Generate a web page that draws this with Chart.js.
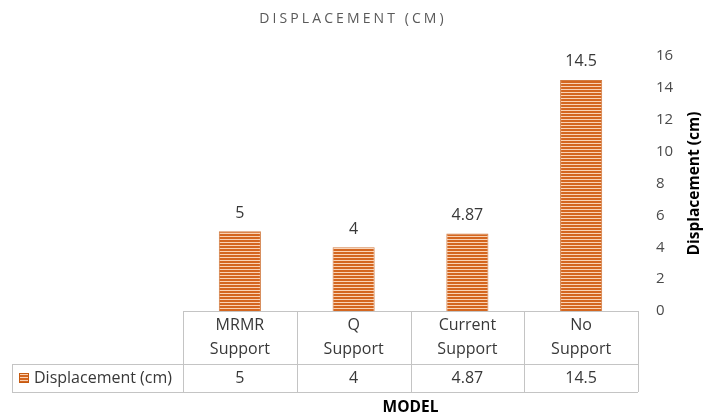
<!DOCTYPE html>
<html>
<head>
<meta charset="utf-8">
<script src="https://cdn.jsdelivr.net/npm/chart.js@4.4.1/dist/chart.umd.min.js"></script>
<style>
  html, body { margin: 0; padding: 0; background: #ffffff; }
  #wrap { width: 703px; height: 419px; }
</style>
</head>
<body>
<div id="wrap"><canvas id="c" width="703" height="419"></canvas></div>
<script>
// Data
const categories = [["MRMR", "Support"], ["Q", "Support"], ["Current", "Support"], ["No", "Support"]];
const displacement = [5, 4, 4.87, 14.5];
const valueLabels = ["5", "4", "4.87", "14.5"];
const seriesName = "Displacement (cm)";
const chartTitle = "DISPLACEMENT (CM)";
const yTitle = "Displacement (cm)";
const xTitle = "MODEL";

const FONT = "'Open Sans', Lato, sans-serif";
const TEXT = "#383838";
const GRID = "#c4c4c4";

// Horizontal stripe fill for the bars
function stripePattern(ctx) {
  const p = document.createElement("canvas");
  p.width = 4; p.height = 3;
  const g = p.getContext("2d");
  g.fillStyle = "#fad3b5";
  g.fillRect(0, 0, 4, 3);
  g.fillStyle = "#d4661f";
  g.fillRect(0, 0, 4, 2);
  return ctx.createPattern(p, "repeat");
}

const canvas = document.getElementById("c");
const ctx = canvas.getContext("2d");
const fill = stripePattern(ctx);

// Title, axis titles, value labels and the data table
const decorations = {
  id: "decorations",
  afterDatasetsDraw(chart) {
    const c = chart.ctx;
    const area = chart.chartArea;
    const xs = chart.scales.x;
    const ys = chart.scales.y;
    const meta = chart.getDatasetMeta(0);
    const n = categories.length;
    const colW = (area.right - area.left) / n;

    c.save();
    // chart title
    c.fillStyle = "#595959";
    c.font = "14px " + FONT;
    c.letterSpacing = "3.1px";
    c.textAlign = "center";
    c.textBaseline = "middle";
    c.fillText(chartTitle, 353, 19);
    c.letterSpacing = "0px";

    // value labels above bars
    c.fillStyle = TEXT;
    c.font = "16px " + FONT;
    meta.data.forEach((bar, i) => {
      c.fillText(valueLabels[i], bar.x, ys.getPixelForValue(displacement[i]) - 18);
    });

    // y axis title (reads bottom to top)
    c.save();
    c.translate(695, (area.top + area.bottom) / 2);
    c.rotate(-Math.PI / 2);
    c.font = "bold 15.5px " + FONT;
    c.fillStyle = "#000000";
    c.fillText(yTitle, 0, 0);
    c.restore();

    // data table
    const top = area.bottom;
    const rowSplit = top + 53;
    const bottom = rowSplit + 28;
    const tableLeft = 12;
    c.strokeStyle = GRID;
    c.lineWidth = 1;
    c.beginPath();
    c.moveTo(area.left, top + 0.5); c.lineTo(area.right, top + 0.5);
    c.moveTo(tableLeft, rowSplit + 0.5); c.lineTo(area.right, rowSplit + 0.5);
    c.moveTo(tableLeft, bottom + 0.5); c.lineTo(area.right, bottom + 0.5);
    c.moveTo(tableLeft + 0.5, rowSplit); c.lineTo(tableLeft + 0.5, bottom);
    for (let i = 0; i <= n; i++) {
      const x = Math.round(area.left + i * colW) + 0.5;
      c.moveTo(x, top); c.lineTo(x, bottom);
    }
    c.stroke();

    c.fillStyle = TEXT;
    c.font = "16px " + FONT;
    c.textAlign = "center";
    categories.forEach((lines, i) => {
      const cx = xs.getPixelForValue(i);
      c.fillText(lines[0], cx, top + 14);
      c.fillText(lines[1], cx, top + 38);
      c.fillText(valueLabels[i], cx, rowSplit + 14);
    });

    // legend key inside the table
    c.fillStyle = fill;
    c.fillRect(19, rowSplit + 9, 10, 10);
    c.strokeStyle = "#c55a11";
    c.strokeRect(19.5, rowSplit + 9.5, 9, 9);
    c.fillStyle = TEXT;
    c.textAlign = "left";
    c.fillText(seriesName, 34, rowSplit + 14);

    // x axis title
    c.fillStyle = "#000000";
    c.font = "bold 15.5px " + FONT;
    c.textAlign = "center";
    c.fillText(xTitle, (area.left + area.right) / 2, bottom + 16);
    c.restore();
  }
};

new Chart(ctx, {
  type: "bar",
  data: {
    labels: categories.map(l => l.join(" ")),
    datasets: [{
      label: seriesName,
      data: displacement,
      backgroundColor: fill,
      borderColor: "rgba(197,90,17,0.8)",
      borderWidth: { left: 1, right: 1, top: 1, bottom: 0 },
      borderSkipped: false,
      barPercentage: 0.37,
      categoryPercentage: 1.0
    }]
  },
  options: {
    responsive: false,
    animation: false,
    devicePixelRatio: 1,
    layout: { padding: { left: 183, top: 56, bottom: 108, right: 0 } },
    plugins: {
      legend: { display: false },
      title: { display: false },
      tooltip: { enabled: false }
    },
    scales: {
      x: {
        display: false
      },
      y: {
        position: "right",
        min: 0,
        max: 16,
        afterFit(scale) { scale.width = 65; },
        ticks: {
          stepSize: 2,
          padding: 18,
          color: "#4a4a4a",
          font: { family: FONT, size: 15 }
        },
        grid: { display: false, drawTicks: false },
        border: { display: false },
        title: { display: false }
      }
    }
  },
  plugins: [decorations]
});
</script>
</body>
</html>
